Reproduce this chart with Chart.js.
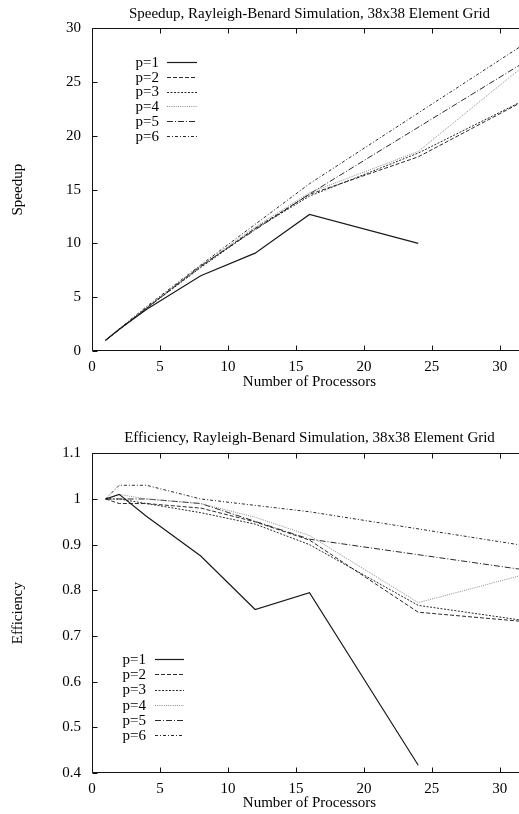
<!DOCTYPE html>
<html><head><meta charset="utf-8">
<script src="https://cdn.jsdelivr.net/npm/chart.js@4.4.1/dist/chart.umd.min.js"></script>
<style>
html,body{margin:0;padding:0;background:#fff;overflow:hidden;width:519px;height:814px;}
canvas{position:absolute;left:0;}
#c1{top:0}
#c2{top:407px}
</style></head><body>
<canvas id="c1" width="527" height="407"></canvas>
<canvas id="c2" width="527" height="407"></canvas>
<script>
// ---------- data ----------
const seriesLabels = ['p=1', 'p=2', 'p=3', 'p=4', 'p=5', 'p=6'];
const procsP1   = [1, 2, 4, 8, 12, 16, 24];
const procsMid  = [1, 2, 4, 8, 12, 16, 24, 32];
const procsHigh = [1, 2, 4, 8, 16, 32];

const speedupP1 = [1, 2.02, 3.85, 7.0, 9.1, 12.7, 10.0];
const speedupP2 = [1, 1.98, 3.96, 7.84, 11.4, 14.56, 18.05, 23.4];
const speedupP3 = [1, 2.0, 3.96, 7.76, 11.34, 14.4, 18.4, 23.45];
const speedupP4 = [1, 2.02, 4.0, 7.92, 11.52, 14.72, 18.55, 26.75];
const speedupP5 = [1, 2.0, 4.0, 7.92, 14.6, 27.0];
const speedupP6 = [1, 2.06, 4.12, 8.0, 15.55, 28.7];

const effP1 = [1.0, 1.01, 0.962, 0.875, 0.758, 0.795, 0.417];
const effP2 = [1.0, 0.99, 0.99, 0.98, 0.95, 0.91, 0.752, 0.731];
const effP3 = [1.0, 1.0, 0.99, 0.97, 0.945, 0.90, 0.767, 0.733];
const effP4 = [1.0, 1.01, 1.0, 0.99, 0.96, 0.92, 0.773, 0.836];
const effP5 = [1.0, 1.0, 1.0, 0.99, 0.912, 0.844];
const effP6 = [1.0, 1.03, 1.03, 1.0, 0.972, 0.897];

const xTickValues       = [0, 5, 10, 15, 20, 25, 30];
const speedupTickValues = [0, 5, 10, 15, 20, 25, 30];
const effTickValues     = [0.4, 0.5, 0.6, 0.7, 0.8, 0.9, 1.0, 1.1];

// ---------- styles ----------
const lineStyles = [
  {color: '#1a1a1a', width: 1.2, dash: []},
  {color: '#2a2a2a', width: 1, dash: [4, 2]},
  {color: '#2a2a2a', width: 1, dash: [2, 1.5]},
  {color: '#8a8a8a', width: 1, dash: [1, 1.2]},
  {color: '#2a2a2a', width: 1, dash: [6, 2, 1, 2]},
  {color: '#2a2a2a', width: 1, dash: [3, 2, 1, 2]}
];

Chart.defaults.font.family = '"Liberation Serif", "Times New Roman", serif';
Chart.defaults.font.size = 15;
Chart.defaults.color = '#000';

const framePlugin = {
  id: 'frame',
  afterDraw(chart, args, opts) {
    const {ctx, chartArea: a, scales: {x, y}} = chart;
    ctx.save();
    ctx.strokeStyle = '#111';
    ctx.lineWidth = 1;
    ctx.setLineDash([]);
    const L = Math.round(a.left) + 0.5, R = Math.round(a.right) - 0.5;
    const T = Math.round(a.top) + 0.5, B = Math.round(a.bottom) - 0.5;
    ctx.beginPath();
    ctx.moveTo(L, T); ctx.lineTo(R, T); ctx.lineTo(R, B); ctx.lineTo(L, B); ctx.closePath();
    const tl = 5;
    x.ticks.forEach(t => {
      const px = Math.round(x.getPixelForValue(t.value)) + 0.5;
      ctx.moveTo(px, B); ctx.lineTo(px, B - tl);
      ctx.moveTo(px, T); ctx.lineTo(px, T + tl);
    });
    y.ticks.forEach(t => {
      const py = Math.round(y.getPixelForValue(t.value)) + 0.5;
      ctx.moveTo(L, py); ctx.lineTo(L + tl, py);
      ctx.moveTo(R, py); ctx.lineTo(R - tl, py);
    });
    ctx.stroke();

    // legend (gnuplot style: label then line sample)
    const lg = opts.legend;
    ctx.font = '15px "Liberation Serif", "Times New Roman", serif';
    ctx.textAlign = 'right';
    ctx.textBaseline = 'middle';
    chart.data.datasets.forEach((ds, i) => {
      const yy = lg.y0 + i * lg.dy;
      ctx.fillStyle = '#000';
      ctx.fillText(ds.label, lg.textRight, yy + 1);
      ctx.beginPath();
      ctx.strokeStyle = ds.borderColor;
      ctx.lineWidth = ds.borderWidth;
      ctx.setLineDash(ds.borderDash || []);
      ctx.moveTo(lg.x1, Math.round(yy) + 0.5);
      ctx.lineTo(lg.x2, Math.round(yy) + 0.5);
      ctx.stroke();
    });
    ctx.restore();
  }
};

function toPoints(xs, ys) { return xs.map((v, i) => ({x: v, y: ys[i]})); }

function makeChart(id, seriesX, seriesY, cfg) {
  const datasets = seriesLabels.map((lab, i) => ({
    label: lab,
    data: toPoints(seriesX[i], seriesY[i]),
    borderColor: lineStyles[i].color,
    borderWidth: lineStyles[i].width,
    borderDash: lineStyles[i].dash,
    pointRadius: 0,
    tension: 0,
    fill: false
  }));
  return new Chart(document.getElementById(id), {
    type: 'line',
    data: {datasets},
    plugins: [framePlugin],
    options: {
      responsive: false,
      animation: false,
      devicePixelRatio: 1,
      layout: {padding: 0},
      plugins: {
        legend: {display: false},
        tooltip: {enabled: false},
        title: {
          display: true, text: cfg.title, fullSize: false,
          font: {size: 15, weight: 'normal'}, color: '#000',
          padding: cfg.titlePad
        },
        frame: {legend: cfg.legend}
      },
      scales: {
        x: {
          type: 'linear', min: 0, max: 32,
          grid: {display: false, drawTicks: false}, border: {display: false},
          afterBuildTicks: s => { s.ticks = xTickValues.map(v => ({value: v})); },
          ticks: {padding: cfg.xTickPad, maxRotation: 0, autoSkip: false, callback: v => String(v)},
          title: {display: true, text: 'Number of Processors', font: {size: 15}, padding: {top: 0, bottom: cfg.xTitlePad}},
          afterFit: s => { s.height = cfg.xHeight; }
        },
        y: {
          type: 'linear', min: cfg.yMin, max: cfg.yMax,
          grid: {display: false, drawTicks: false}, border: {display: false},
          afterBuildTicks: s => { s.ticks = cfg.yTicks.map(v => ({value: v})); },
          ticks: {padding: 11, autoSkip: false, callback: v => String(Math.round(v * 10) / 10)},
          title: {display: true, text: cfg.yTitle, font: {size: 15}, padding: {top: 9.3, bottom: 0}},
          afterFit: s => { s.width = 92; }
        }
      }
    }
  });
}

makeChart('c1',
  [procsP1, procsMid, procsMid, procsMid, procsHigh, procsHigh],
  [speedupP1, speedupP2, speedupP3, speedupP4, speedupP5, speedupP6],
  {
    title: 'Speedup, Rayleigh-Benard Simulation, 38x38 Element Grid',
    titlePad: {top: 5, bottom: 5.3},
    xHeight: 56, xTickPad: 7, xTitlePad: 16.3,
    yMin: 0, yMax: 30, yTicks: speedupTickValues, yTitle: 'Speedup',
    legend: {textRight: 159, x1: 167, x2: 197, y0: 61.7, dy: 14.9}
  });

makeChart('c2',
  [procsP1, procsMid, procsMid, procsMid, procsHigh, procsHigh],
  [effP1, effP2, effP3, effP4, effP5, effP6],
  {
    title: 'Efficiency, Rayleigh-Benard Simulation, 38x38 Element Grid',
    titlePad: {top: 21.7, bottom: 6.6},
    xHeight: 41, xTickPad: 7.5, xTitlePad: 1.7,
    yMin: 0.4, yMax: 1.1, yTicks: effTickValues, yTitle: 'Efficiency',
    legend: {textRight: 146, x1: 155, x2: 184, y0: 252.3, dy: 15.1}
  });
</script>
</body></html>
